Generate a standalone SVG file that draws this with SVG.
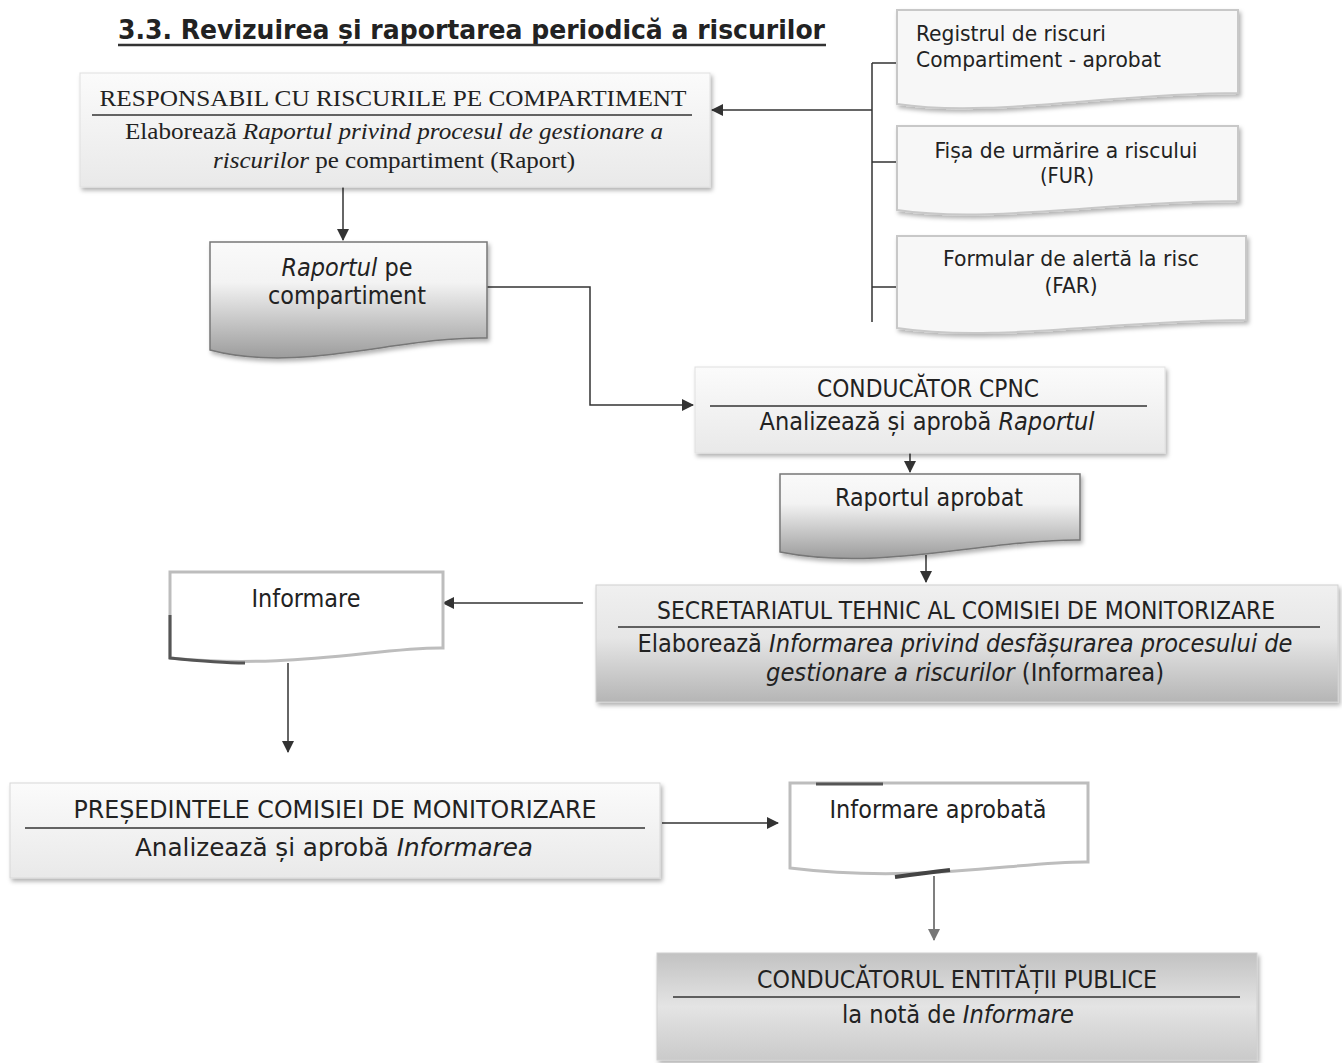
<svg xmlns="http://www.w3.org/2000/svg" width="1342" height="1063" viewBox="0 0 1342 1063">
<style>
.s{font-family:"DejaVu Sans Condensed","DejaVu Sans",sans-serif;fill:#222}
.t{font-family:"Liberation Serif","Times New Roman",serif;fill:#222}
.i{font-style:italic}
.sep{stroke:#333;stroke-width:1.5}
.c{fill:none;stroke:#333;stroke-width:1.5}
.c2{fill:none;stroke:#333;stroke-width:1.5;marker-end:url(#arr)}
</style>
<defs>
<marker id="arr" markerUnits="userSpaceOnUse" markerWidth="12" markerHeight="12" refX="11" refY="6" orient="auto"><path d="M0,0 L12,6 L0,12 z" fill="#333"/></marker>
<marker id="arrL" markerUnits="userSpaceOnUse" markerWidth="12" markerHeight="12" refX="11" refY="6" orient="auto"><path d="M0,0 L12,6 L0,12 z" fill="#777"/></marker>
<linearGradient id="gLight" x1="0" y1="0" x2="0" y2="1"><stop offset="0" stop-color="#fbfbfb"/><stop offset="1" stop-color="#e9e9e9"/></linearGradient>
<linearGradient id="gDoc" x1="0" y1="0" x2="0" y2="1"><stop offset="0" stop-color="#fafafa"/><stop offset="0.35" stop-color="#f3f3f3"/><stop offset="1" stop-color="#9c9c9c"/></linearGradient>
<linearGradient id="gSec" x1="0" y1="0" x2="0" y2="1"><stop offset="0" stop-color="#f0f0f0"/><stop offset="0.45" stop-color="#e6e6e6"/><stop offset="1" stop-color="#b5b5b5"/></linearGradient>
<linearGradient id="gCond" x1="0" y1="0" x2="0" y2="1"><stop offset="0" stop-color="#c2c2c2"/><stop offset="0.5" stop-color="#e4e4e4"/><stop offset="1" stop-color="#cacaca"/></linearGradient>
<filter id="sh" x="-5%" y="-10%" width="110%" height="130%"><feDropShadow dx="2" dy="3" stdDeviation="2" flood-color="#000" flood-opacity="0.3"/></filter>
</defs>
<rect width="1342" height="1063" fill="#fff"/>

<g id="title">
<text class="s" x="118" y="39" font-size="27" font-weight="bold" fill="#333" textLength="707" lengthAdjust="spacingAndGlyphs">3.3. Revizuirea și raportarea periodică a riscurilor</text>
<line x1="118" y1="45" x2="826" y2="45" stroke="#333" stroke-width="2.5"/>
</g>

<g id="connectors">
<path class="c" d="M872 63 V322 M872 63 H897 M872 162 H897 M872 287 H897"/>
<path class="c2" d="M872 110 H712"/>
<path class="c2" d="M343 150 V240"/>
<path class="c2" d="M487 287 H590 V405 H693"/>
<path class="c2" d="M910 453 V472"/>
<path class="c2" d="M926 555 V582"/>
<path class="c2" d="M583 603 H443"/>
<path class="c2" d="M288 663 V752"/>
<path class="c2" d="M662 823 H778"/>
<path fill="none" stroke="#555" stroke-width="1.5" marker-end="url(#arrL)" d="M934 876 V940"/>
</g>

<g id="responsabil">
<rect x="80" y="73" width="630" height="114" fill="url(#gLight)" stroke="#e0e0e0" filter="url(#sh)"/>
<text class="t" x="393" y="106" font-size="23" text-anchor="middle" textLength="587" lengthAdjust="spacingAndGlyphs">RESPONSABIL CU RISCURILE PE COMPARTIMENT</text>
<line class="sep" x1="92" y1="115" x2="692" y2="115"/>
<text class="t" x="394" y="139" font-size="23" text-anchor="middle" textLength="538" lengthAdjust="spacingAndGlyphs">Elaborează <tspan class="i">Raportul privind procesul de gestionare a</tspan></text>
<text class="t" x="394" y="168" font-size="23" text-anchor="middle" textLength="362" lengthAdjust="spacingAndGlyphs"><tspan class="i">riscurilor</tspan> pe compartiment (Raport)</text>
</g>

<g id="registru">
<path d="M897 10 H1238 V93 C1110 93 990 118 897 104 Z" fill="#f7f7f7" stroke="#c8c8c8" stroke-width="2" filter="url(#sh)"/>
<text class="s" x="916" y="41" font-size="21" textLength="190" lengthAdjust="spacingAndGlyphs">Registrul de riscuri</text>
<text class="s" x="916" y="67" font-size="21" textLength="245" lengthAdjust="spacingAndGlyphs">Compartiment - aprobat</text>
</g>

<g id="fur">
<path d="M897 126 H1238 V201 C1110 201 990 224 897 210 Z" fill="#f7f7f7" stroke="#c8c8c8" stroke-width="2" filter="url(#sh)"/>
<text class="s" x="1066" y="158" font-size="21" text-anchor="middle" textLength="263" lengthAdjust="spacingAndGlyphs">Fișa de urmărire a riscului</text>
<text class="s" x="1067" y="183" font-size="21" text-anchor="middle" textLength="54" lengthAdjust="spacingAndGlyphs">(FUR)</text>
</g>

<g id="far">
<path d="M897 236 H1246 V320 C1115 320 995 343 897 328 Z" fill="#f7f7f7" stroke="#c8c8c8" stroke-width="2" filter="url(#sh)"/>
<text class="s" x="1071" y="266" font-size="21" text-anchor="middle" textLength="256" lengthAdjust="spacingAndGlyphs">Formular de alertă la risc</text>
<text class="s" x="1071" y="293" font-size="21" text-anchor="middle" textLength="53" lengthAdjust="spacingAndGlyphs">(FAR)</text>
</g>

<g id="raport-comp">
<path d="M210 242 H487 V338 C400 336 300 374 210 350 Z" fill="url(#gDoc)" stroke="#777" stroke-width="1.5" filter="url(#sh)"/>
<text class="s" x="347" y="276" font-size="24" text-anchor="middle" textLength="131" lengthAdjust="spacingAndGlyphs"><tspan class="i">Raportul</tspan> pe</text>
<text class="s" x="347" y="304" font-size="24" text-anchor="middle" textLength="158" lengthAdjust="spacingAndGlyphs">compartiment</text>
</g>

<g id="cpnc">
<rect x="695" y="367" width="470" height="86" fill="url(#gLight)" stroke="#e0e0e0" filter="url(#sh)"/>
<text class="s" x="928" y="397" font-size="24" text-anchor="middle" textLength="222" lengthAdjust="spacingAndGlyphs">CONDUCĂTOR CPNC</text>
<line class="sep" x1="710" y1="406" x2="1147" y2="406"/>
<text class="s" x="927" y="430" font-size="24" text-anchor="middle" textLength="335" lengthAdjust="spacingAndGlyphs">Analizează și aprobă <tspan class="i">Raportul</tspan></text>
</g>

<g id="raport-aprobat">
<path d="M780 474 H1080 V540 C990 539 880 572 780 552 Z" fill="url(#gDoc)" stroke="#777" stroke-width="1.5" filter="url(#sh)"/>
<text class="s" x="929" y="506" font-size="24" text-anchor="middle" textLength="188" lengthAdjust="spacingAndGlyphs">Raportul aprobat</text>
</g>

<g id="secretariat">
<rect x="596" y="585" width="742" height="117" fill="url(#gSec)" stroke="#d0d0d0" filter="url(#sh)"/>
<text class="s" x="966" y="619" font-size="24" text-anchor="middle" textLength="618" lengthAdjust="spacingAndGlyphs">SECRETARIATUL TEHNIC AL COMISIEI DE MONITORIZARE</text>
<line class="sep" x1="618" y1="627" x2="1320" y2="627"/>
<text class="s" x="965" y="652" font-size="24" text-anchor="middle" textLength="655" lengthAdjust="spacingAndGlyphs">Elaborează <tspan class="i">Informarea privind desfășurarea procesului de</tspan></text>
<text class="s" x="965" y="681" font-size="24" text-anchor="middle" textLength="398" lengthAdjust="spacingAndGlyphs"><tspan class="i">gestionare a riscurilor</tspan> (Informarea)</text>
</g>

<g id="informare">
<path d="M170 572 H443 V648 C380 647 290 670 170 658 Z" fill="#fff" stroke="#bdbdbd" stroke-width="3"/>
<path d="M170 615 V658 C200 661 225 663 245 663" fill="none" stroke="#555" stroke-width="3"/>
<text class="s" x="306" y="607" font-size="24" text-anchor="middle" textLength="109" lengthAdjust="spacingAndGlyphs">Informare</text>
</g>

<g id="presedinte">
<rect x="10" y="783" width="650" height="95" fill="url(#gLight)" stroke="#d8d8d8" filter="url(#sh)"/>
<text class="s" x="335" y="818" font-size="24" text-anchor="middle" textLength="523" lengthAdjust="spacingAndGlyphs">PREȘEDINTELE COMISIEI DE MONITORIZARE</text>
<line class="sep" x1="25" y1="828" x2="645" y2="828"/>
<text class="s" x="334" y="856" font-size="24" text-anchor="middle" textLength="398" lengthAdjust="spacingAndGlyphs">Analizează și aprobă <tspan class="i">Informarea</tspan></text>
</g>

<g id="informare-aprobata">
<path d="M790 783 H1088 V862 C1020 861 920 884 790 868 Z" fill="#fff" stroke="#bdbdbd" stroke-width="3"/>
<path d="M816 784 H883" stroke="#555" stroke-width="3"/>
<path d="M895 877 C910 875 925 873 950 870" fill="none" stroke="#444" stroke-width="4"/>
<text class="s" x="938" y="818" font-size="24" text-anchor="middle" textLength="217" lengthAdjust="spacingAndGlyphs">Informare aprobată</text>
</g>

<g id="conducator">
<rect x="657" y="953" width="600" height="107" fill="url(#gCond)" stroke="#d0d0d0" filter="url(#sh)"/>
<text class="s" x="957" y="988" font-size="24" text-anchor="middle" textLength="400" lengthAdjust="spacingAndGlyphs">CONDUCĂTORUL ENTITĂȚII PUBLICE</text>
<line class="sep" x1="673" y1="997" x2="1240" y2="997"/>
<text class="s" x="958" y="1023" font-size="24" text-anchor="middle" textLength="232" lengthAdjust="spacingAndGlyphs">la notă de <tspan class="i">Informare</tspan></text>
</g>
</svg>
